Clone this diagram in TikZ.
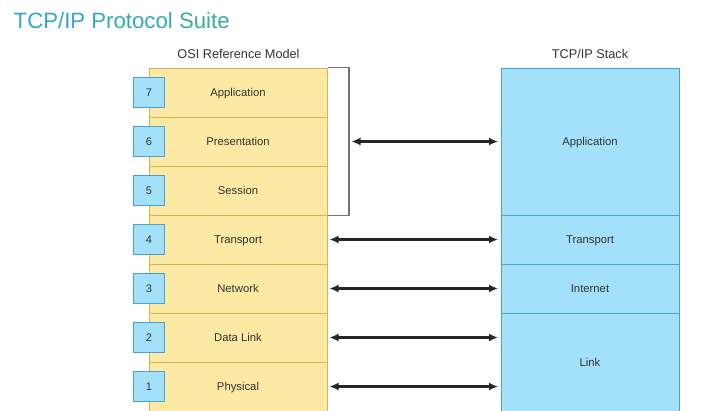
\documentclass[tikz,border=0pt]{standalone}
\usepackage{fontspec}
\setmainfont{Liberation Sans}
\usetikzlibrary{arrows.meta}
\definecolor{yfill}{HTML}{FCE9A4}
\definecolor{ydraw}{HTML}{D6B653}
\definecolor{bfill}{HTML}{A3E1FA}
\definecolor{bdraw}{HTML}{4AA3CF}
\definecolor{txt}{HTML}{333333}
\definecolor{tA}{HTML}{34A6CE}
\definecolor{tB}{HTML}{36A9B6}
\definecolor{tC}{HTML}{3DAB98}
\tikzset{
  osirow/.style={draw=ydraw, fill=yfill, line width=1pt, minimum width=178pt, minimum height=49pt,
    inner sep=0pt, text=txt, font=\fontsize{11.3}{13}\selectfont, text height=0.716em, text depth=0pt},
  tcprow/.style={draw=bdraw, fill=bfill, line width=1pt, minimum width=178pt,
    inner sep=0pt, text=txt, font=\fontsize{11.3}{13}\selectfont, text height=0.716em, text depth=0pt},
  numbox/.style={draw=bdraw, fill=bfill, line width=1pt, minimum width=31pt, minimum height=30pt,
    inner sep=0pt, text=txt, font=\fontsize{11}{13}\selectfont, text height=0.716em, text depth=0pt},
  heading/.style={anchor=base, text=txt, font=\fontsize{12.7}{15}\selectfont, inner sep=0pt},
  link/.style={line width=2.2pt, draw=black!85, {Latex[length=9pt,width=8pt]}-{Latex[length=9pt,width=8pt]}},
}
\begin{document}
\begin{tikzpicture}[x=1pt,y=-1pt]
\useasboundingbox (0,0) rectangle (704,410);
\clip (0,0) rectangle (704,410);
\fill[white] (0,0) rectangle (704,410);
% title
\node[anchor=base west, inner sep=0pt, font=\fontsize{22.2}{26}\selectfont] (title) at (13.5,28.3)
  {\textcolor{tA}{TCP/IP} \textcolor{tB}{Protocol} \textcolor{tC}{Suite}};
% headings
\node[heading] (osih) at (238.5,58.2) {OSI Reference Model};
\node[heading] (tcph) at (590,58.2) {TCP/IP Stack};
% OSI rows
\node[osirow] (l7) at (238,92.5) {Application};
\node[osirow] (l6) at (238,141.5) {Presentation};
\node[osirow] (l5) at (238,190.5) {Session};
\node[osirow] (l4) at (238,239.5) {Transport};
\node[osirow] (l3) at (238,288.5) {Network};
\node[osirow] (l2) at (238,337.5) {Data Link};
\node[osirow] (l1) at (238,386.5) {Physical};
% number boxes
\node[numbox] (n7) at (149,92.5) {7};
\node[numbox] (n6) at (149,141.5) {6};
\node[numbox] (n5) at (149,190.5) {5};
\node[numbox] (n4) at (149,239.5) {4};
\node[numbox] (n3) at (149,288.5) {3};
\node[numbox] (n2) at (149,337.5) {2};
\node[numbox] (n1) at (149,386.5) {1};
% TCP/IP rows
\node[tcprow, minimum height=147pt] (tapp) at (590,141.5) {Application};
\node[tcprow, minimum height=49pt] (ttra) at (590,239.5) {Transport};
\node[tcprow, minimum height=49pt] (tint) at (590,288.5) {Internet};
\node[tcprow, minimum height=98pt] (tlnk) at (590,362.5) {Link};
% bracket
\coordinate (brk) at (349,141.5);
\draw[line width=1.4pt, draw=black!55] (l7.north east) -- (l7.north east -| brk) -- (l5.south east -| brk) -- (l5.south east);
% arrows
\draw[link, shorten <=2.5pt, shorten >=2.5pt] (brk) -- (tapp.west);
\draw[link, shorten <=2pt, shorten >=2.5pt] (l4.east) -- (ttra.west);
\draw[link, shorten <=2pt, shorten >=2.5pt] (l3.east) -- (tint.west);
\draw[link, shorten <=2pt, shorten >=2.5pt] (l2.east) -- (l2.east -| tlnk.west);
\draw[link, shorten <=2pt, shorten >=2.5pt] (l1.east) -- (l1.east -| tlnk.west);
\end{tikzpicture}
\end{document}
